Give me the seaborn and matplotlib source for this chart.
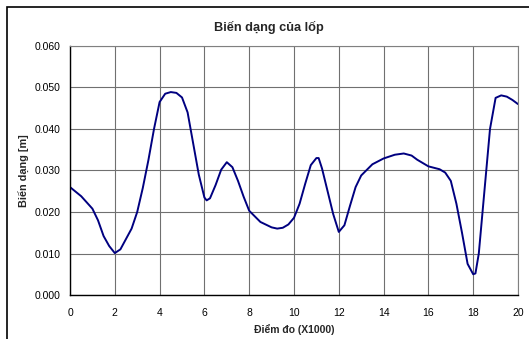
import matplotlib
matplotlib.use("Agg")
import matplotlib.pyplot as plt
import matplotlib.patches as mpatches
import seaborn as sns
import pandas as pd

x_points = [0, 0.5, 1.0, 1.25, 1.5, 1.75, 2.0, 2.25, 2.5, 2.75, 3.0, 3.25, 3.5, 3.75,
            4.0, 4.25, 4.5, 4.75, 5.0, 5.25, 5.5, 5.75, 6.0, 6.1, 6.25, 6.5, 6.75,
            7.0, 7.25, 7.5, 7.75, 8.0, 8.5, 9.0, 9.25, 9.5, 9.75, 10.0, 10.25, 10.5,
            10.75, 11.0, 11.1, 11.25, 11.5, 11.75, 12.0, 12.25, 12.5, 12.75, 13.0,
            13.5, 14.0, 14.5, 14.9, 15.25, 15.5, 16.0, 16.5, 16.75, 17.0, 17.25,
            17.5, 17.75, 18.0, 18.1, 18.25, 18.5, 18.75, 19.0, 19.25, 19.5, 19.75, 20.0]
deformation = [0.0260, 0.0238, 0.0208, 0.0180, 0.0142, 0.0118, 0.0101, 0.0110, 0.0135,
               0.0160, 0.0200, 0.0258, 0.0325, 0.0400, 0.0465, 0.0485, 0.0489, 0.0487,
               0.0476, 0.0440, 0.0365, 0.0290, 0.0235, 0.0228, 0.0233, 0.0265, 0.0302,
               0.0320, 0.0308, 0.0275, 0.0237, 0.0203, 0.0176, 0.0163, 0.0160, 0.0162,
               0.0170, 0.0186, 0.0220, 0.0268, 0.0313, 0.0330, 0.0330, 0.0305, 0.0250,
               0.0195, 0.0152, 0.0168, 0.0215, 0.0260, 0.0288, 0.0315, 0.0329, 0.0338,
               0.0341, 0.0336, 0.0326, 0.0310, 0.0303, 0.0295, 0.0275, 0.0220, 0.0150,
               0.0075, 0.0050, 0.0052, 0.0100, 0.0250, 0.0400, 0.0475, 0.0481, 0.0478,
               0.0470, 0.0460]

x_ticks = [0, 2, 4, 6, 8, 10, 12, 14, 16, 18, 20]
y_ticks = [0.000, 0.010, 0.020, 0.030, 0.040, 0.050, 0.060]
title = "Biến dạng của lốp"
x_label = "Điểm đo (X1000)"
y_label = "Biến dạng [m]"

sns.set_style("white")
plt.rcParams['font.family'] = ['Liberation Sans', 'DejaVu Sans']

df = pd.DataFrame({"x": x_points, "y": deformation})

fig = plt.figure(figsize=(5.29, 3.39), dpi=100)
ax = fig.add_axes([70/529, 44/339, 448/529, 249/339])

sns.lineplot(data=df, x="x", y="y", ax=ax, color="#000080", linewidth=1.4, sort=False)

ax.set_xlim(0, 20)
ax.set_ylim(0, 0.06)
ax.set_xticks(x_ticks)
ax.set_xticklabels([str(t) for t in x_ticks])
ax.set_yticks(y_ticks)
ax.set_yticklabels([f"{t:.3f}" for t in y_ticks])
ax.tick_params(axis='both', labelsize=7.5, direction='out', length=3, width=1,
               color='black', labelcolor='black', pad=4)
ax.tick_params(axis='x', pad=6)
ax.grid(True, color='#707070', linewidth=0.8, linestyle='-')
ax.set_axisbelow(True)

for side in ['top', 'right']:
    ax.spines[side].set_color('#808080')
    ax.spines[side].set_linewidth(0.8)
for side in ['left', 'bottom']:
    ax.spines[side].set_color('black')
    ax.spines[side].set_linewidth(1.0)
    ax.spines[side].set_visible(True)

ax.set_xlabel(x_label, fontsize=7.5, fontweight='bold', labelpad=5)
ax.set_ylabel(y_label, fontsize=7.8, fontweight='bold', labelpad=3)
fig.text(269/529, 1 - 27/339, title, ha='center', va='center', fontsize=9.2, fontweight='bold')

rect = mpatches.Rectangle((7/529, -0.1), 1.2, 1 - 7/339 + 0.1, transform=fig.transFigure,
                          fill=False, edgecolor='black', linewidth=1.2)
fig.patches.append(rect)

fig.savefig("out.png", dpi=100)
